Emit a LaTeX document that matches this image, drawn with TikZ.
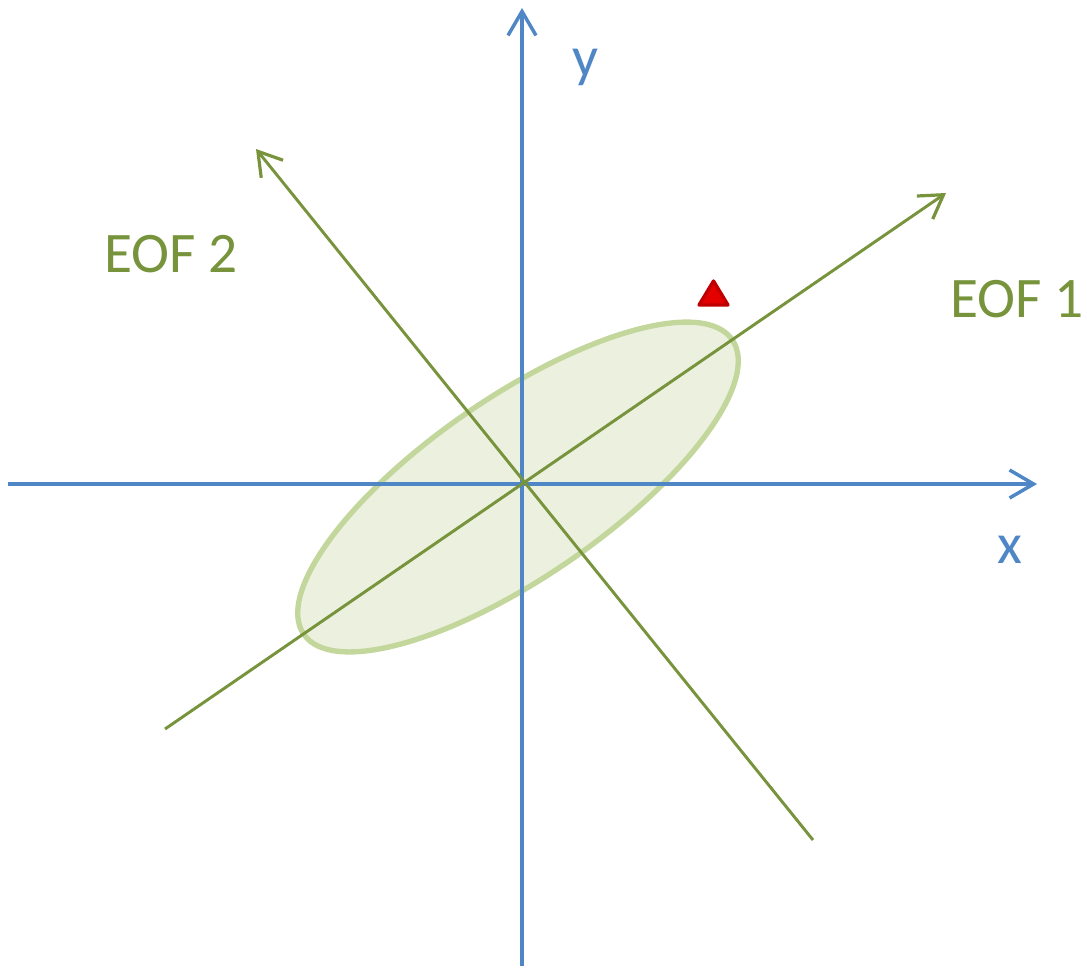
\documentclass[tikz,border=0pt]{standalone}
\usepackage{fontspec}
\setmainfont{Carlito}
\usetikzlibrary{arrows.meta}
\definecolor{axblue}{HTML}{4F86C6}
\definecolor{eofgreen}{HTML}{77933C}
\definecolor{ellfill}{HTML}{EBF1DE}
\definecolor{elldraw}{HTML}{C3D69B}
\definecolor{tri}{HTML}{C00000}
\begin{document}
\begin{tikzpicture}[x=0.75pt,y=-0.75pt,
  axis/.style={draw=axblue,line width=2.6pt,-{Straight Barb[length=18pt,width=21pt,line width=2.6pt]}},
  eof/.style={draw=eofgreen,line width=2.2pt,-{Straight Barb[length=17pt,width=21pt,line width=2.4pt]}},
  axlabel/.style={text=axblue,font=\fontsize{43}{50}\selectfont,inner sep=0pt},
  eoflabel/.style={text=eofgreen,font=\fontsize{43}{50}\selectfont,inner sep=0pt}]
\useasboundingbox (0,0) rectangle (1087,968);
\coordinate (o) at (522,484);
\coordinate (ec) at (518,487);
% ellipse
\draw[fill=ellfill,draw=elldraw,line width=4pt,rotate around={34.5:(ec)}] (ec) ellipse [x radius=260, y radius=90];
% axes
\coordinate (xs) at (8,484);
\coordinate (xe) at (1037,484);
\coordinate (ys) at (522,966);
\coordinate (ye) at (522,8);
\draw[axis] (xs) -- (xe);
\draw[axis] (ys) -- (ye);
% EOF axes
\coordinate (e1s) at (165,729);
\coordinate (e1e) at (946,193);
\coordinate (e2s) at (813,840);
\coordinate (e2e) at (256,149);
\draw[eof] (e1s) -- (e1e);
\draw[eof] (e2s) -- (e2e);
% triangle
\coordinate (t1) at (699,305);
\coordinate (t2) at (728,305);
\coordinate (t3) at (713.5,281);
\filldraw[fill=red!90!black,draw=tri,line width=2.5pt,line join=round] (t1) -- (t2) -- (t3) -- cycle;
% labels
\node[axlabel,anchor=base west] (ylab) at (572,76) {y};
\node[axlabel,anchor=base west] (xlab) at (997,563) {x};
\node[eoflabel,anchor=base west] (eof2) at (104,272) {EOF 2};
\node[eoflabel,anchor=base west] (eof1) at (950,317) {EOF 1};
\end{tikzpicture}
\end{document}
